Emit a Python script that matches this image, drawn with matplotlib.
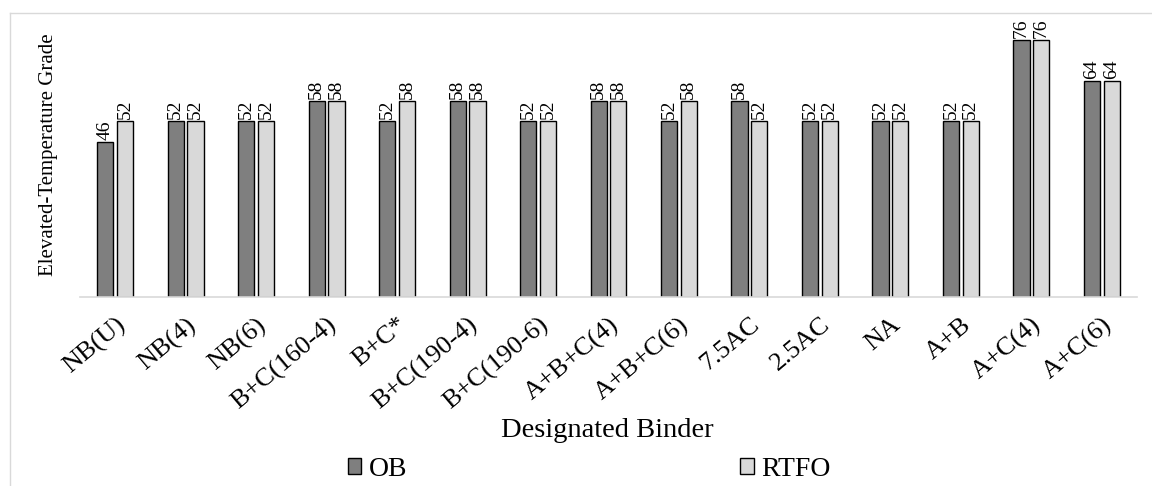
import matplotlib.pyplot as plt
import matplotlib.lines as mlines
import numpy as np

binders = ["NB(U)", "NB(4)", "NB(6)", "B+C(160-4)", "B+C*", "B+C(190-4)",
           "B+C(190-6)", "A+B+C(4)", "A+B+C(6)", "7.5AC", "2.5AC", "NA",
           "A+B", "A+C(4)", "A+C(6)"]
ob = [46, 52, 52, 58, 52, 58, 52, 58, 52, 58, 52, 52, 52, 76, 64]
rtfo = [52, 52, 52, 58, 58, 58, 52, 58, 58, 52, 52, 52, 52, 76, 64]

plt.rcParams["font.family"] = ["Liberation Serif", "DejaVu Serif"]

fig = plt.figure(figsize=(11.52, 4.86), dpi=100)
ax = fig.add_axes([80 / 1152, 1 - 297 / 486, 1057 / 1152, 284 / 486])

# рамка: лише верх і ліворуч
top = 1 - 13 / 486
left = 10 / 1152
fig.lines.append(mlines.Line2D([left, 1.0], [top, top], transform=fig.transFigure,
                               color="#d9d9d9", linewidth=1))
fig.lines.append(mlines.Line2D([left, left], [0, top], transform=fig.transFigure,
                               color="#d9d9d9", linewidth=1))

x = np.arange(len(binders)) + 0.5
w = 0.23
b1 = ax.bar(x - 0.14, ob, w, color="#7f7f7f", edgecolor="black", linewidth=1, label="OB")
b2 = ax.bar(x + 0.14, rtfo, w, color="#d9d9d9", edgecolor="black", linewidth=1, label="RTFO")

for bars in (b1, b2):
    for b in bars:
        ax.annotate(f"{int(b.get_height())}", (b.get_x() + b.get_width() / 2, b.get_height()),
                    xytext=(0, 1.5), textcoords="offset points", rotation=90,
                    ha="center", va="bottom", fontsize=14)

ax.set_xlim(0, len(binders))
ax.set_ylim(0, 84.1)
ax.set_xticks(x)
ax.set_xticklabels(binders, rotation=40, ha="right", rotation_mode="anchor", fontsize=19)
ax.tick_params(axis="x", length=0, pad=12)
ax.set_yticks([])
for s in ["top", "right", "left"]:
    ax.spines[s].set_visible(False)
ax.spines["bottom"].set_color("#d9d9d9")
ax.spines["bottom"].set_linewidth(1.2)

ax.set_ylabel("Elevated-Temperature Grade", fontsize=15, labelpad=16)
fig.text(607 / 1152, 1 - 430 / 486, "Designated Binder", ha="center", va="center", fontsize=20.5)

fig.legend(loc="center", bbox_to_anchor=(589 / 1152, 1 - 469 / 486), ncol=2,
           frameon=False, fontsize=20, columnspacing=12.0, handlelength=0.5,
           handleheight=0.5, handletextpad=0.25)

plt.savefig("out.png", dpi=100)
